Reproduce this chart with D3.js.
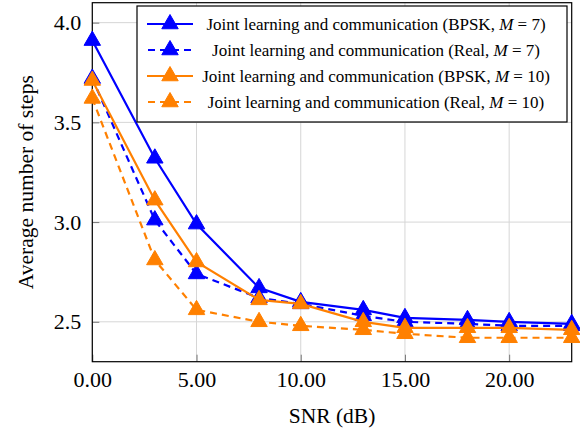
<!DOCTYPE html>
<html>
<head>
<meta charset="utf-8">
<script src="https://cdn.jsdelivr.net/npm/d3@7"></script>
<style>
  html, body { margin: 0; padding: 0; background: #fff; }
  svg { display: block; }
</style>
</head>
<body>
<svg id="chart" width="580" height="433"></svg>
<script>
// ---- Data ----
const snr = [0, 3, 5, 8, 10, 13, 15, 18, 20, 23];
const bpskM7 = [3.91, 3.32, 2.99, 2.67, 2.60, 2.56, 2.52, 2.51, 2.50, 2.49];
const realM7 = [3.72, 3.01, 2.74, 2.62, 2.59, 2.53, 2.50, 2.49, 2.48, 2.48];
const bpskM10 = [3.71, 3.11, 2.80, 2.61, 2.59, 2.50, 2.47, 2.47, 2.47, 2.46];
const realM10 = [3.62, 2.81, 2.56, 2.50, 2.48, 2.46, 2.44, 2.42, 2.42, 2.42];
const seriesNames = ["BPSK", "Real", "BPSK", "Real"];
const seriesM = ["7", "7", "10", "10"];
const xTicks = [0, 5, 10, 15, 20];
const yTicks = [2.5, 3.0, 3.5, 4.0];
const xLabel = "SNR (dB)";
const yLabel = "Average number of steps";

const FONT = '"Liberation Serif"';

const series = [
  { name: seriesNames[0], m: seriesM[0], values: bpskM7, color: "#0000ff", dashed: false },
  { name: seriesNames[1], m: seriesM[1], values: realM7, color: "#0000ff", dashed: true },
  { name: seriesNames[2], m: seriesM[2], values: bpskM10, color: "#ff8000", dashed: false },
  { name: seriesNames[3], m: seriesM[3], values: realM10, color: "#ff8000", dashed: true }
];

// ---- Layout ----
const W = 580, H = 433;
const margin = { left: 92.3, right: 8.3, top: 2.7, bottom: 71.3 };
const svg = d3.select("#chart");
const x = d3.scaleLinear().domain([0, 23]).range([margin.left, W - margin.right]);
const y = d3.scaleLinear().domain([2.3, 4.1]).range([H - margin.bottom, margin.top]);

const R = 9.5;
const triSize = 3 * Math.sqrt(3) * (R / 2) * (R / 2);
const tri = d3.symbol().type(d3.symbolTriangle).size(triSize);

// grid
const g = svg.append("g");
g.selectAll(".gx").data(xTicks).join("line")
  .attr("x1", d => x(d)).attr("x2", d => x(d))
  .attr("y1", y.range()[0]).attr("y2", y.range()[1])
  .attr("stroke", "#d6d6d6").attr("stroke-width", 1);
g.selectAll(".gy").data(yTicks).join("line")
  .attr("x1", x.range()[0]).attr("x2", x.range()[1])
  .attr("y1", d => y(d)).attr("y2", d => y(d))
  .attr("stroke", "#d6d6d6").attr("stroke-width", 1);

// axes via d3 axis (ticks inside)
const xAxis = d3.axisBottom(x).tickValues(xTicks).tickFormat(d3.format(".2f")).tickSize(-7).tickPadding(9.5);
const yAxis = d3.axisLeft(y).tickValues(yTicks).tickFormat(d3.format(".1f")).tickSize(-7).tickPadding(11);

const gx = svg.append("g").attr("transform", `translate(0,${y.range()[0]})`).call(xAxis);
const gy = svg.append("g").attr("transform", `translate(${x.range()[0]},0)`).call(yAxis);
[gx, gy].forEach(a => {
  a.attr("font-family", null).attr("font-size", null);
  a.select(".domain").remove();
  a.selectAll(".tick line").attr("stroke", "#777").attr("stroke-width", 1);
  a.selectAll(".tick text").style("font-family", FONT).style("font-size", "22px").attr("fill", "#000");
});

// frame
svg.append("rect")
  .attr("x", x.range()[0]).attr("y", y.range()[1])
  .attr("width", x.range()[1] - x.range()[0]).attr("height", y.range()[0] - y.range()[1])
  .attr("fill", "none").attr("stroke", "#000").attr("stroke-width", 1.2);

// series
const line = d3.line().x((d, i) => x(snr[i])).y(d => y(d));
series.forEach(s => {
  svg.append("path").datum(s.values)
    .attr("d", line)
    .attr("fill", "none").attr("stroke", s.color).attr("stroke-width", 2.2)
    .attr("stroke-dasharray", s.dashed ? "7,5" : null);
  svg.append("g").selectAll("path").data(s.values).join("path")
    .attr("d", tri)
    .attr("transform", (d, i) => `translate(${x(snr[i])},${y(d)})`)
    .attr("fill", s.color).attr("stroke", s.color).attr("stroke-width", 1);
});

// axis labels
svg.append("text").attr("x", (x.range()[0] + x.range()[1]) / 2).attr("y", 423)
  .attr("text-anchor", "middle").style("font-family", FONT).style("font-size", "21.5px").attr("fill", "#000").text(xLabel);
svg.append("text").attr("transform", `translate(33,${(y.range()[0] + y.range()[1]) / 2}) rotate(-90)`)
  .attr("text-anchor", "middle").style("font-family", FONT).style("font-size", "21.5px").attr("fill", "#000").text(yLabel);

// legend
const lg = svg.append("g");
lg.append("rect").attr("x", 137).attr("y", 6).attr("width", 430).attr("height", 116)
  .attr("fill", "#fff").attr("stroke", "#000").attr("stroke-width", 1.2);
series.forEach((s, i) => {
  const cy = 24 + i * 26;
  lg.append("line").attr("x1", 147).attr("x2", 193).attr("y1", cy).attr("y2", cy)
    .attr("stroke", s.color).attr("stroke-width", 2.2)
    .attr("stroke-dasharray", s.dashed ? "7,5" : null)
    .attr("stroke-dashoffset", s.dashed ? -1 : 0);
  lg.append("path").attr("d", tri).attr("transform", `translate(170,${cy})`)
    .attr("fill", s.color).attr("stroke", s.color);
  const t = lg.append("text").attr("x", 376).attr("y", cy + 6)
    .attr("text-anchor", "middle").style("font-family", FONT).style("font-size", "17px").attr("fill", "#000");
  t.append("tspan").text(`Joint learning and communication (${s.name}, `);
  t.append("tspan").style("font-style", "italic").text("M");
  t.append("tspan").text(` = ${s.m})`);
});
</script>
</body>
</html>
